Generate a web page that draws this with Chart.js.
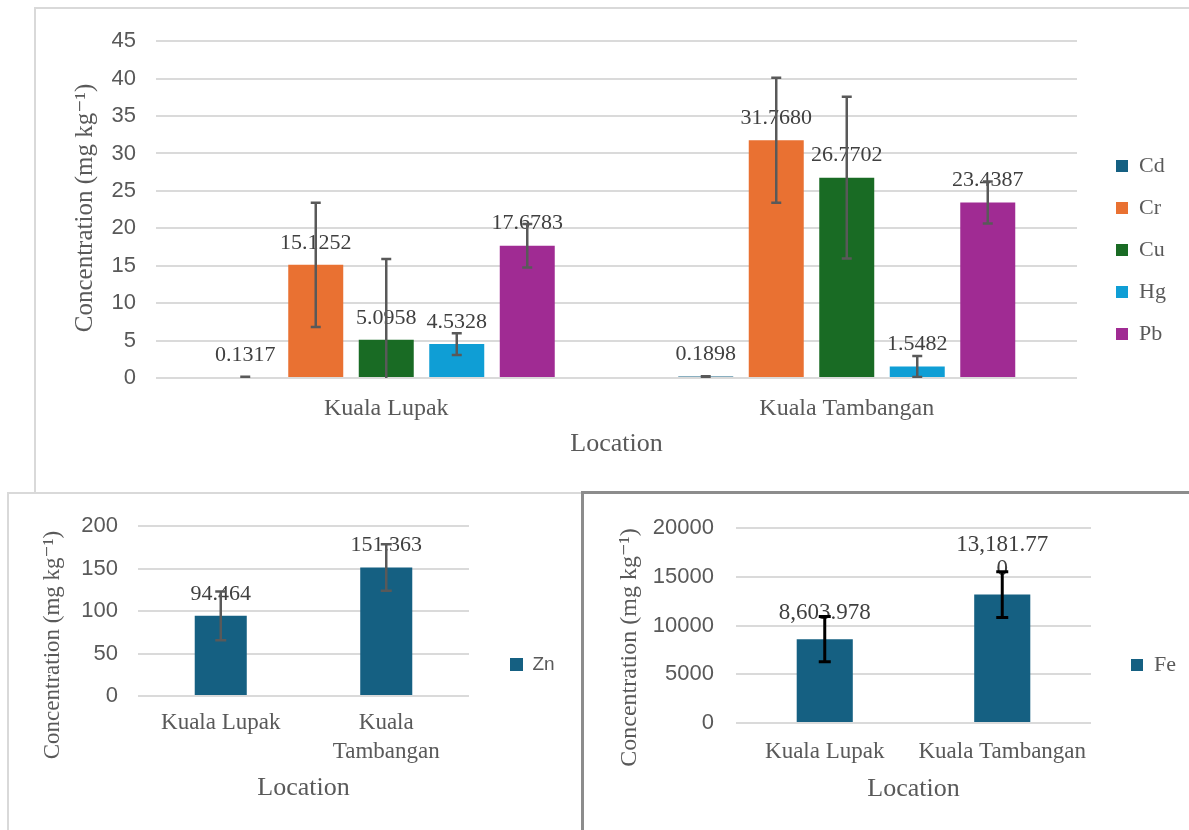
<!DOCTYPE html>
<html>
<head>
<meta charset="utf-8">
<script src="https://cdn.jsdelivr.net/npm/chart.js@4.4.1/dist/chart.umd.min.js"></script>
<style>
  body { margin: 0; background: #fff; width: 1189px; height: 830px; overflow: hidden; position: relative; }
  .panel { position: absolute; box-sizing: border-box; background: #fff; }
  canvas { position: absolute; }
</style>
</head>
<body>
<div class="panel" style="left:34px;top:7px;width:1200px;height:487px;border:2px solid #d9d9d9;"></div>
<canvas id="metals" width="1154" height="485" style="left:35px;top:8px;"></canvas>
<div class="panel" style="left:7px;top:492px;width:580px;height:400px;border:2px solid #d9d9d9;"></div>
<canvas id="zinc" width="574" height="337" style="left:8px;top:493px;"></canvas>
<div class="panel" style="left:581px;top:491px;width:700px;height:400px;border:3px solid #8c8c8c;"></div>
<canvas id="iron" width="607" height="337" style="left:582px;top:493px;"></canvas>

<script>
// ---- data ----
var locations = ['Kuala Lupak', 'Kuala Tambangan'];
var metals = ['Cd', 'Cr', 'Cu', 'Hg', 'Pb'];
var metalColors = ['#156082', '#e97132', '#196b24', '#0f9ed5', '#a02b93'];
var cdMean = [0.1317, 0.1898];
var crMean = [15.1252, 31.7680];
var cuMean = [5.0958, 26.7702];
var hgMean = [4.5328, 1.5482];
var pbMean = [17.6783, 23.4387];
var cdSd = [0.05, 0.05];
var crSd = [8.3, 8.35];
var cuSd = [10.8, 10.8];
var hgSd = [1.45, 1.4];
var pbSd = [2.9, 2.8];
var metalMeans = [cdMean, crMean, cuMean, hgMean, pbMean];
var metalSd = [cdSd, crSd, cuSd, hgSd, pbSd];
var metalTicks = { max: 45, step: 5 };

var znLocations = ['Kuala Lupak', ['Kuala', 'Tambangan']];
var znMean = [94.464, 151.363];
var znSd = [28.7, 27.5];
var znText = ['94.464', '151.363'];
var znTicks = { max: 200, step: 50 };

var feLocations = ['Kuala Lupak', 'Kuala Tambangan'];
var feMean = [8603.978, 13181.770];
var feSd = [2320, 2340];
var feText = [['8,603.978'], ['13,181.77', '0']];
var feTicks = { max: 20000, step: 5000 };

var yTitleText = 'Concentration (mg kg\u207B\u00B9)';
var xTitleText = 'Location';

// ---- styles ----
var GREY = '#595959', DARK = '#404040', GRID = '#dadada';
var SERIF = '"Liberation Serif", "Times New Roman", "DejaVu Serif", serif';
var SANS = '"Liberation Sans", Arial, sans-serif';

// value labels above the bars
function valueLabels(o) {
  return {
    id: 'valueLabels',
    afterDatasetsDraw: function (chart) {
      var ctx = chart.ctx;
      ctx.save();
      ctx.font = o.size + 'px ' + SERIF;
      ctx.fillStyle = DARK;
      ctx.textAlign = 'center';
      ctx.textBaseline = 'middle';
      chart.data.datasets.forEach(function (ds, i) {
        chart.getDatasetMeta(i).data.forEach(function (bar, j) {
          var lines = ds.valueText[j];
          if (!Array.isArray(lines)) lines = [lines];
          lines.forEach(function (t, k) {
            ctx.fillText(t, bar.x, bar.y - o.offset - (lines.length - 1 - k) * o.gap);
          });
        });
      });
      ctx.restore();
    }
  };
}

// standard deviation whiskers
function errorBars(o) {
  return {
    id: 'errorBars',
    afterDatasetsDraw: function (chart) {
      var ctx = chart.ctx, y = chart.scales.y, a = chart.chartArea;
      ctx.save();
      ctx.beginPath();
      ctx.rect(a.left, a.top - 30, a.right - a.left, a.bottom - a.top + 30);
      ctx.clip();
      ctx.strokeStyle = o.color;
      ctx.lineWidth = o.width;
      chart.data.datasets.forEach(function (ds, i) {
        chart.getDatasetMeta(i).data.forEach(function (bar, j) {
          var v = ds.data[j], sd = ds.sd[j];
          var hi = y.getPixelForValue(v + sd), lo = y.getPixelForValue(v - sd);
          ctx.beginPath();
          ctx.moveTo(bar.x, hi); ctx.lineTo(bar.x, lo);
          ctx.moveTo(bar.x - o.cap / 2, hi); ctx.lineTo(bar.x + o.cap / 2, hi);
          ctx.moveTo(bar.x - o.cap / 2, lo); ctx.lineTo(bar.x + o.cap / 2, lo);
          ctx.stroke();
        });
      });
      ctx.restore();
    }
  };
}

// put the legend where the original sits (wide enough so the text is not clipped)
function legendPlace(o) {
  return {
    id: 'legendPlace',
    afterLayout: function (chart) {
      var lg = chart.legend;
      var h = lg.height;
      lg.left = o.x - o.pad;
      lg.width = 120;
      lg.right = lg.left + 120;
      lg.top = o.y - o.size / 2 - o.pad;
      lg.bottom = lg.top + h;
    }
  };
}

// rotated y axis title
function yTitle(o) {
  return {
    id: 'yTitle',
    afterDraw: function (chart) {
      var ctx = chart.ctx;
      ctx.save();
      ctx.translate(o.x, o.y);
      ctx.rotate(-Math.PI / 2);
      ctx.font = o.size + 'px ' + SERIF;
      ctx.fillStyle = GREY;
      ctx.textAlign = 'center';
      ctx.textBaseline = 'middle';
      ctx.fillText(yTitleText, 0, 0);
      ctx.restore();
    }
  };
}

function options(o) {
  return {
    responsive: false,
    animation: false,
    devicePixelRatio: 1,
    layout: { padding: { left: 0, top: o.top, right: o.right, bottom: o.bottom } },
    plugins: {
      tooltip: { enabled: false },
      legend: {
        position: 'right',
        align: 'start',
        maxWidth: 40,
        labels: {
          boxWidth: o.box, boxHeight: o.box, padding: o.legendPad, color: GREY,
          font: { family: o.legendFont, size: o.legendSize }
        }
      }
    },
    scales: {
      x: {
        offset: true,
        grid: { display: false, drawTicks: false },
        border: { display: false },
        ticks: {
          padding: o.xPad, color: GREY, maxRotation: 0, autoSkip: false,
          font: { family: SERIF, size: o.xFont, lineHeight: o.xLine || 1.2 }
        },
        title: {
          display: true, text: xTitleText, color: GREY,
          font: { family: SERIF, size: 26, lineHeight: 1.2 },
          padding: { top: 0, bottom: o.titlePad }
        },
        afterFit: function (s) { s.height = o.xHeight; }
      },
      y: {
        min: 0, max: o.ticks.max,
        grid: { color: GRID, lineWidth: 2, drawTicks: false },
        border: { display: false },
        ticks: {
          stepSize: o.ticks.step, padding: o.yPad, color: GREY,
          font: { family: SANS, size: 22 },
          callback: function (v) { return String(v); }
        },
        afterFit: function (s) { s.width = o.yWidth; }
      }
    }
  };
}

// ---- top chart: five metals ----
new Chart(document.getElementById('metals'), {
  type: 'bar',
  data: {
    labels: locations,
    datasets: metals.map(function (m, i) {
      return {
        label: m,
        data: metalMeans[i],
        sd: metalSd[i],
        valueText: metalMeans[i].map(function (v) { return v.toFixed(4); }),
        backgroundColor: metalColors[i],
        borderWidth: 0,
        categoryPercentage: 0.7655,
        barPercentage: 0.78
      };
    })
  },
  options: options({
    top: 30, right: 72, bottom: 25, ticks: metalTicks,
    yWidth: 121, yPad: 20, xHeight: 90, xPad: 16, xFont: 24, titlePad: 8.4,
    box: 12, legendPad: 20, legendFont: SERIF, legendSize: 22
  }),
  plugins: [
    valueLabels({ size: 22, offset: 22, gap: 23 }),
    errorBars({ color: '#595959', width: 2.5, cap: 10 }),
    legendPlace({ x: 1081, y: 158, size: 22, pad: 20 }),
    yTitle({ x: 50, y: 200, size: 25 })
  ]
});

// ---- bottom left: Zn ----
new Chart(document.getElementById('zinc'), {
  type: 'bar',
  data: {
    labels: znLocations,
    datasets: [{
      label: 'Zn',
      data: znMean,
      sd: znSd,
      valueText: znText,
      backgroundColor: '#156082',
      borderWidth: 0,
      categoryPercentage: 0.8,
      barPercentage: 0.393
    }]
  },
  options: options({
    top: 29, right: 73, bottom: 24, ticks: znTicks,
    yWidth: 130, yPad: 20, xHeight: 110, xPad: 13, xFont: 23, xLine: 1.25, titlePad: 2.4,
    box: 13, legendPad: 20, legendFont: SANS, legendSize: 19
  }),
  plugins: [
    valueLabels({ size: 22, offset: 22, gap: 23 }),
    errorBars({ color: '#595959', width: 2.5, cap: 11 }),
    legendPlace({ x: 502, y: 171.5, size: 19, pad: 20 }),
    yTitle({ x: 45, y: 152, size: 23 })
  ]
});

// ---- bottom right: Fe ----
new Chart(document.getElementById('iron'), {
  type: 'bar',
  data: {
    labels: feLocations,
    datasets: [{
      label: 'Fe',
      data: feMean,
      sd: feSd,
      valueText: feText,
      backgroundColor: '#156082',
      borderWidth: 0,
      categoryPercentage: 0.8,
      barPercentage: 0.395
    }]
  },
  options: options({
    top: 29, right: 58, bottom: 17, ticks: feTicks,
    yWidth: 154, yPad: 22, xHeight: 90, xPad: 15, xFont: 23, titlePad: 8.4,
    box: 12, legendPad: 20, legendFont: SERIF, legendSize: 22
  }),
  plugins: [
    valueLabels({ size: 23, offset: 26, gap: 24 }),
    errorBars({ color: '#000000', width: 3, cap: 12 }),
    legendPlace({ x: 549, y: 172, size: 22, pad: 20 }),
    yTitle({ x: 48, y: 154.5, size: 24 })
  ]
});
</script>
</body>
</html>
